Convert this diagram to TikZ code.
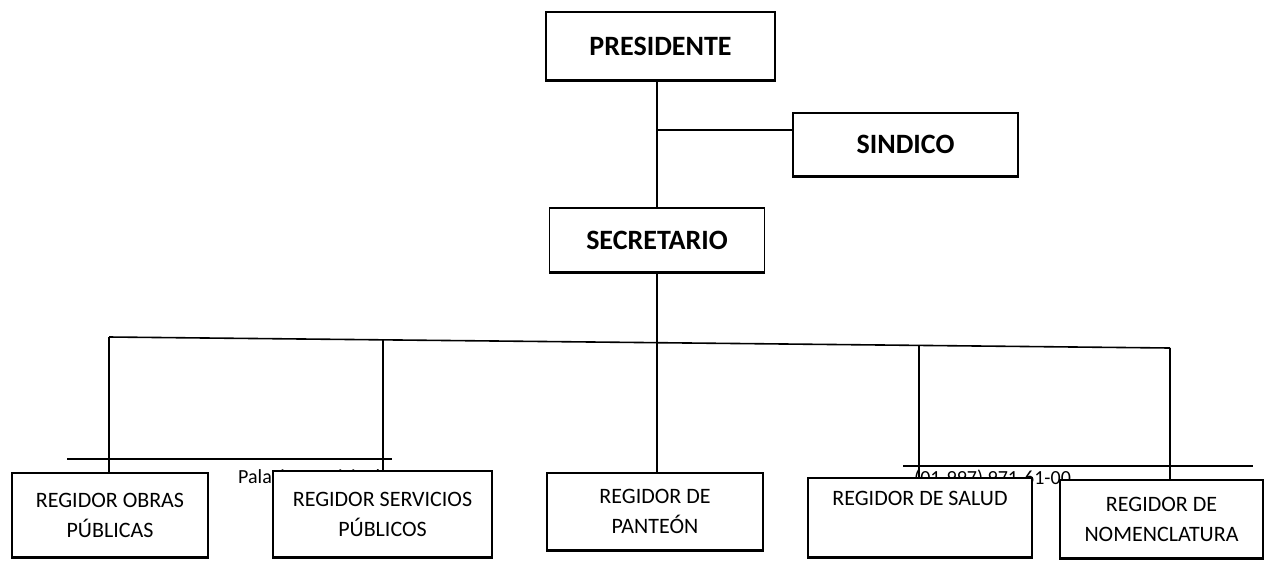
\documentclass[tikz,border=0pt]{standalone}
\usepackage{fontspec}
\setmainfont{Carlito}
\begin{document}
\begin{tikzpicture}[x=1pt,y=-1pt,
  conn/.style={draw=black, line width=1.6pt},
  thin/.style={draw=black, line width=1.2pt},
  topbox/.style={draw=black, fill=white, line width=1.5pt, inner sep=0pt, align=center,
    font=\fontsize{28}{32}\selectfont\bfseries},
  lowbox/.style={draw=black, fill=white, line width=1.5pt, inner sep=0pt, align=center,
    font=\fontsize{22}{30}\selectfont},
  stray/.style={inner sep=0pt, font=\fontsize{20}{22}\selectfont}]
\useasboundingbox (0,0) rectangle (1268,560);
% stray footer remnants (partly hidden by the boxes)
\node[stray, anchor=west] (palacio) at (238,478) {Palacio Municipal};
\node[stray, anchor=west] (tel) at (914,479) {(01-997) 971-61-00};
\coordinate (fl1) at (67,459);
\coordinate (fl2) at (392,459);
\coordinate (fr1) at (903,466);
\coordinate (fr2) at (1253,466);
\draw[thin] (fl1) -- (fl2);
\draw[thin] (fr1) -- (fr2);
% top boxes
\node[topbox, minimum width=229pt, minimum height=68pt] (pres) at (660.5,46) {PRESIDENTE};
\node[topbox, minimum width=225pt, minimum height=63pt] (sind) at (905.5,144.5) {SINDICO};
\node[topbox, minimum width=215pt, minimum height=64pt] (sec) at (657,240) {SECRETARIO};
% bus coordinates
\coordinate (b1) at (109,337);
\coordinate (b2) at (383,340);
\coordinate (b3) at (657,343);
\coordinate (b4) at (919,345.5);
\coordinate (b5) at (1170,348);
\coordinate (j) at (657,130);
% connectors
\draw[conn] (pres.south -| sec.north) -- (sec.north);
\draw[conn] (j) -- (j -| sind.west);
\draw[conn] (b1) -- (b5);
% lower boxes
\node[lowbox, minimum width=196pt, minimum height=84pt] (obras) at (110,515) {REGIDOR OBRAS\\PÚBLICAS};
\node[lowbox, minimum width=219pt, minimum height=86pt] (serv) at (382.5,514) {REGIDOR SERVICIOS\\PÚBLICOS};
\node[lowbox, minimum width=216pt, minimum height=77pt] (pan) at (655,511.5) {REGIDOR DE\\PANTEÓN};
\node[lowbox, minimum width=224pt, minimum height=79pt] (sal) at (920,517.5) {REGIDOR DE SALUD\\\strut};
\node[lowbox, minimum width=203pt, minimum height=78pt] (nom) at (1161.5,519) {REGIDOR DE\\NOMENCLATURA};
\draw[conn] (sec.south) -- (sec.south |- pan.north);
\draw[conn] (b1) -- (b1 |- obras.north);
\draw[conn] (b2) -- (b2 |- serv.north);
\draw[conn] (b4) -- (b4 |- sal.north);
\draw[conn] (b5) -- (b5 |- nom.north);
% heavier bottom edges as in the scan
\foreach \n in {pres,sind,sec,obras,serv,pan,sal,nom}
  \draw[line width=3pt] (\n.south west) -- (\n.south east);
\end{tikzpicture}
\end{document}
